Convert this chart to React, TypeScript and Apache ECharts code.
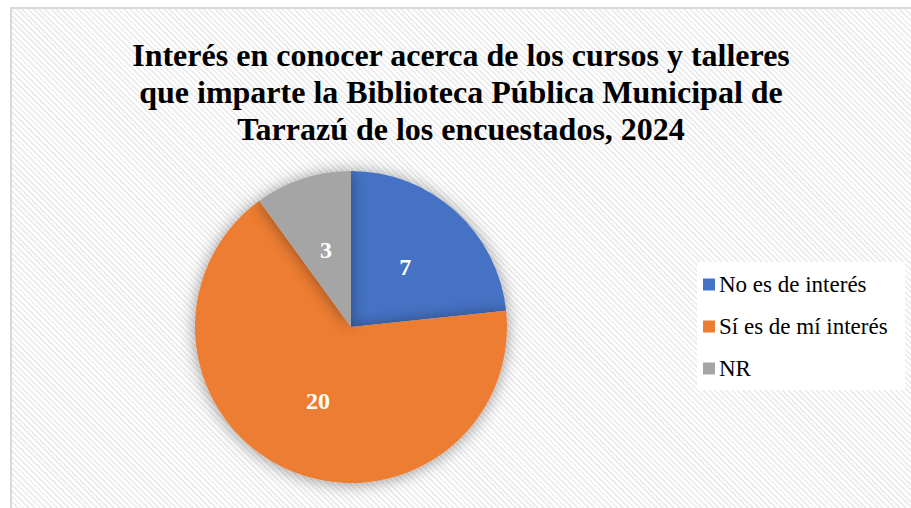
import React, { useEffect, useRef } from "react";
import * as echarts from "echarts";

const titleLines = [
  "Interés en conocer acerca de los cursos y talleres",
  "que imparte la Biblioteca Pública Municipal de",
  "Tarrazú de los encuestados, 2024",
];
const categories = ["No es de interés", "Sí es de mí interés", "NR"];
const values = [7, 20, 3];
const colors = ["#4472C4", "#ED7D31", "#A5A5A5"];

export default function App() {
  const ref = useRef<HTMLDivElement>(null);
  useEffect(() => {
    if (!ref.current) return;
    const chart = echarts.init(ref.current, undefined, { renderer: "svg" });
    chart.setOption({
      animation: false,
      backgroundColor: "transparent",
      graphic: [
        {
          type: "rect",
          left: 697,
          top: 262,
          shape: { width: 208, height: 128 },
          style: { fill: "#ffffff" },
          z: 0,
        },
        {
          type: "text",
          x: 461,
          y: 92,
          style: {
            text: titleLines.join("\n"),
            font: "bold 32px 'Liberation Serif'",
            fill: "#000000",
            align: "center",
            verticalAlign: "middle",
            lineHeight: 37,
          },
        },
      ],
      legend: {
        orient: "vertical",
        left: 703,
        top: 273,
        itemWidth: 12,
        itemHeight: 12,
        itemGap: 19,
        icon: "rect",
        padding: 0,
        data: categories,
        textStyle: {
          fontFamily: "'Liberation Serif'",
          fontSize: 23,
          lineHeight: 23,
          color: "#000000",
          padding: [0, 0, 0, -1],
        },
        z: 5,
      },
      series: [
        {
          type: "pie",
          center: [351, 327],
          radius: 156,
          startAngle: 90,
          clockwise: true,
          silent: true,
          data: categories.map((c, i) => ({
            name: c,
            value: values[i],
            itemStyle: { color: colors[i] },
          })),
          itemStyle: {
            shadowBlur: 16,
            shadowColor: "rgba(0,0,0,0.4)",
            shadowOffsetX: 0,
            shadowOffsetY: 1,
          },
          label: {
            show: true,
            position: "inside",
            formatter: "{c}",
            color: "#ffffff",
            fontFamily: "'Liberation Serif'",
            fontWeight: "bold",
            fontSize: 24,
          },
          labelLine: { show: false },
        },
      ],
    });
    return () => chart.dispose();
  }, []);
  return (
    <div
      style={{
        position: "fixed",
        left: 0,
        top: 0,
        width: 911,
        height: 508,
        background: "#ffffff",
        overflow: "hidden",
      }}
    >
      <div
        style={{
          position: "absolute",
          left: 10,
          top: 7,
          width: 920,
          height: 520,
          border: "2px solid #d9d9d9",
          background:
            "repeating-linear-gradient(45deg, #ffffff 0px, #ffffff 2px, #eeeeee 2px, #eeeeee 4px)",
        }}
      />
      <div
        ref={ref}
        style={{ position: "absolute", left: 0, top: 0, width: 911, height: 508 }}
      />
    </div>
  );
}
